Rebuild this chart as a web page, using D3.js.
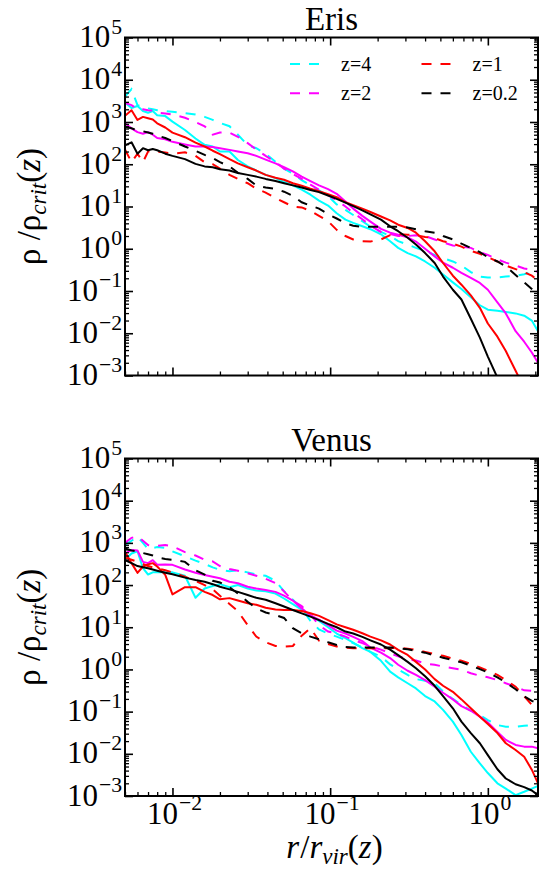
<!DOCTYPE html>
<html><head><meta charset="utf-8">
<script src="https://cdn.jsdelivr.net/npm/d3@7"></script>
<style>body{margin:0;background:#fff}svg{display:block}</style>
</head><body>
<svg id="chart" width="545" height="869"></svg>
<script>
// ---- data ----
const radii = [0.005, 0.0055, 0.006, 0.0065, 0.007, 0.0075, 0.008, 0.009, 0.010, 0.012, 0.014, 0.016, 0.018, 0.020, 0.023, 0.026, 0.030, 0.034, 0.039, 0.045, 0.051, 0.058, 0.066, 0.075, 0.085, 0.097, 0.11, 0.125, 0.14, 0.16, 0.18, 0.21, 0.24, 0.27, 0.31, 0.35, 0.40, 0.46, 0.52, 0.60, 0.68, 0.78, 0.89, 1.0, 1.15, 1.3, 1.5, 1.7, 1.9, 2.08];

const redshiftLabels = ["z=4", "z=2", "z=1", "z=0.2"];
const seriesColors = ["#00ffff", "#ff00ff", "#ff0000", "#000000"];
const panelTitles = ["Eris", "Venus"];
const yTickExponents = [5, 4, 3, 2, 1, 0, -1, -2, -3];
const xTickExponents = [-2, -1, 0];

// Eris
const erisDashedZ4 = [4000,6000,2500,2300,2100,2000,1900,1820,1740,1620, 1510,1320,1120,955,794,500,282,240,178,115, 79,60,42,31.6,24,17.8,11.2,8.3,6.3,4.5, 3.3,2.5,2.0,1.51,1.26,1.05,0.89,0.71,0.6,0.5, 0.4,0.28,0.22,0.21,0.21,0.22,0.23,0.25,0.28,0.25];
const erisSolidZ4 = [2900,2140,2400,1820,1660,1820,1450,1380,1020,646, 407,288,263,200,200,126,89,71,56,47, 38,31.6,25,19,13.8,10.5,6.9,4.9,4.1,3.4, 2.9,2.2,1.5,1.05,0.79,0.66,0.5,0.355,0.245,0.16, 0.112,0.071,0.046,0.036,0.034,0.032,0.0295,0.026,0.02,0.0112];
const erisDashedZ2 = [2820,2510,2000,2000,1900,1860,1660,1585,1510,1260, 1000,794,501,562,562,447,316,224,158,112, 79,59,45,33,25,18.6,14.1,10,7.1,5.0, 3.5,2.5,2.24,2.0,2.0,2.1,2.0,1.66,1.41,1.2, 1.12,1.05,0.83,0.71,0.56,0.47,0.4,0.34,0.32,0.28];
const erisSolidZ2 = [933,708,575,525,575,501,417,389,339,295, 263,263,257,240,219,200,182,158,129,105, 85,68,51,40,31.6,25.7,20,13.2,8.9,6.0, 4.4,2.95,2.4,2.14,1.86,1.48,1.0,0.66,0.47,0.355, 0.27,0.204,0.155,0.107,0.054,0.0295,0.0112,0.0063,0.0035,0.002];
const erisDashedZ1 = [224,112,178,112,200,209,200,191,178,191, 158,112,100,79,56,45,35.5,26.3,21.4,15.8, 12.6,10,9.5,7.9,6.0,4.5,2.8,2.0,1.66,1.51, 1.48,1.66,2.1,2.2,2.14,2.1,1.9,1.78,1.51,1.32, 1.12,0.89,0.76,0.63,0.5,0.4,0.33,0.28,0.23,0.18];
const erisSolidZ1 = [1400,1900,1120,1320,1230,1150,933,741,562,437, 324,263,209,174,132,105,85,71,56,48, 43,35.5,31,26.3,22.9,19.5,16.6,12.6,10.7,8.9, 7.4,5.8,4.7,3.7,3.1,2.4,1.51,0.87,0.46,0.23, 0.141,0.079,0.04,0.017,0.0083,0.0038,0.0013,0.0005,null,null];
const erisDashedZ02 = [759,708,631,603,562,525,479,417,355,263, 209,166,141,112,89,63,45,31.6,28.2,26.3, 22.4,17.8,12.6,10.5,8.9,6.6,5.2,4.0,3.5,3.3, 3.3,3.3,3.3,3.3,3.2,2.9,2.6,2.4,2.0,1.66, 1.32,1.05,0.83,0.63,0.5,0.38,0.24,0.16,0.112,0.083];
const erisSolidZ02 = [282,331,178,240,214,229,214,178,158,132, 102,89,85,76,71,62,56,51,45,40, 35.5,31.6,28.2,24.5,21.9,18.2,15.1,12.3,10.2,8.1, 6.5,4.9,3.4,2.6,1.82,1.26,0.79,0.46,0.22,0.107, 0.063,0.022,0.0079,0.0028,0.00089,null,null,null,null,null];

// Venus
const venusDashedZ4 = [891,1122,1413,1000,708,759,794,759,631,479, 380,316,263,229,214,224,200,178,166,126, 71,45,28,14.1,8.9,7.1,6.0,5.0,4.2,3.3, 2.6,2.0,1.32,1.0,0.74,0.59,0.54,0.47,0.3,0.2, 0.145,0.105,0.083,0.063,0.048,0.044,0.044,0.046,0.048,0.052];
const venusSolidZ4 = [398,562,631,251,178,200,200,200,200,166, 50,83,95,105,89,100,83,74,71,63, 48,35.5,26.3,19,14.1,10,7.1,5.5,4.3,3.2, 2.6,1.6,0.89,0.65,0.47,0.355,0.234,0.174,0.11,0.058, 0.028,0.0112,0.0059,0.0035,0.002,0.0015,0.00105,0.00126,0.0015,0.00174];
const venusDashedZ2 = [1000,1318,1413,1122,891,851,851,891,832,603, 501,398,363,282,240,219,191,166,141,112, 71,42,31.6,20,11.2,7.9,7.1,6.0,5.0,4.2, 3.5,2.95,2.4,2.04,1.74,1.62,1.38,1.29,1.17,1.07, 0.98,0.81,0.71,0.65,0.56,0.47,0.39,0.32,0.31,0.28];
const venusSolidZ2 = [562,676,661,355,331,389,302,309,302,234, 195,174,158,145,120,110,91,83,76,69, 56,43,28,19,15.1,11.2,8.3,7.1,5.9,4.7, 3.3,2.5,1.86,1.29,0.93,0.74,0.56,0.39,0.28,0.195, 0.135,0.105,0.076,0.055,0.033,0.0214,0.0162,0.0148,0.0148,0.0135];
const venusDashedZ1 = [447,398,355,316,282,263,251,224,200,158, 126,100,79,56,35.5,24,11.2,6.0,4.4,3.6, 3.5,3.6,6.3,9.5,4.8,4.0,3.5,3.3,3.2,3.2, 3.2,3.2,3.2,3.3,3.1,2.9,2.6,2.3,2.1,1.8, 1.62,1.35,1.12,0.93,0.74,0.56,0.39,0.23,0.145,0.1];
const venusSolidZ1 = [617,331,195,275,309,331,275,174,60,89, 89,69,58,46,49,43,37,34,29,26.3, 25.7,25.7,24.3,21.4,18.6,14.8,11.7,10,8.7,7.2, 6.0,4.9,3.9,2.9,2.2,1.51,1.0,0.59,0.41,0.295, 0.195,0.12,0.076,0.051,0.031,0.0178,0.0123,0.0085,0.0042,0.002];
const venusDashedZ02 = [741,661,631,575,537,501,457,417,398,355, 224,178,126,115,89,63,40,28,22.4,19.5, 16.6,9.5,7.2,6.0,5.2,4.4,3.8,3.4,3.3,3.3, 3.3,3.3,3.3,3.2,3.0,2.75,2.5,2.14,1.9,1.66, 1.48,1.23,1.02,0.85,0.65,0.49,0.34,0.23,0.18,0.16];
const venusSolidZ02 = [389,331,282,263,251,234,219,195,180,150, 132,120,105,91,79,69,58,50,45,37, 31,25.7,21.4,17.8,14.8,12,10,7.9,7.1,5.9, 4.9,3.9,2.95,2.19,1.51,1.07,0.69,0.41,0.234,0.12, 0.058,0.031,0.0178,0.0093,0.0043,0.0026,0.0019,0.00162,0.00135,0.00105];

// ---- drawing ----
const svg = d3.select("#chart");
const serif = "'Liberation Serif','DejaVu Serif',serif";
const X0 = 125, X1 = 538;
const x = d3.scaleLog().domain([0.005, 2.08]).range([X0, X1]);
const isMajor = v => Math.abs(Math.log10(v) - Math.round(Math.log10(v))) < 1e-6;
const DASH = "10,9";

const panels = [
  {title: panelTitles[0], top: 37.5, bottom: 375.5,
   dashed: [erisDashedZ4, erisDashedZ2, erisDashedZ1, erisDashedZ02],
   solid: [erisSolidZ4, erisSolidZ2, erisSolidZ1, erisSolidZ02], showX: false, legend: true},
  {title: panelTitles[1], top: 458.5, bottom: 796,
   dashed: [venusDashedZ4, venusDashedZ2, venusDashedZ1, venusDashedZ02],
   solid: [venusSolidZ4, venusSolidZ2, venusSolidZ1, venusSolidZ02], showX: true, legend: false}
];

function powerLabel(sel, exp, fs) {
  sel.append("tspan").text("10");
  sel.append("tspan").attr("dx", 1).attr("dy", -0.42 * fs).attr("font-size", fs * 0.7)
     .text(exp < 0 ? "\u2212" + Math.abs(exp) : String(exp));
}

const defs = svg.append("defs");

panels.forEach((p, pi) => {
  const y = d3.scaleLog().domain([1e-3, 1e5]).range([p.bottom, p.top]);
  const g = svg.append("g");
  const cid = "clip" + pi;
  defs.append("clipPath").attr("id", cid).append("rect")
      .attr("x", X0).attr("y", p.top).attr("width", X1 - X0).attr("height", p.bottom - p.top);

  const line = d3.line().defined(d => d[1] != null).x(d => x(d[0])).y(d => y(d[1]));
  const plot = g.append("g").attr("clip-path", `url(#${cid})`);
  for (let k = 0; k < 4; k++) {
    plot.append("path").datum(radii.map((r, j) => [r, p.dashed[k][j]]))
        .attr("d", line).attr("fill", "none").attr("stroke", seriesColors[k])
        .attr("stroke-width", 2).attr("stroke-dasharray", DASH);
    plot.append("path").datum(radii.map((r, j) => [r, p.solid[k][j]]))
        .attr("d", line).attr("fill", "none").attr("stroke", seriesColors[k])
        .attr("stroke-width", 2).attr("stroke-linejoin", "round");
  }

  // ticks (inward, all four sides)
  const yt = y.ticks(), xt = x.ticks();
  const yMaj = yt.filter(isMajor), yMin = yt.filter(v => !isMajor(v));
  const xMaj = xt.filter(isMajor), xMin = xt.filter(v => !isMajor(v));
  const put = (axis, tx, ty, w) => g.append("g").attr("transform", `translate(${tx},${ty})`)
      .call(axis).call(s => { s.select(".domain").remove(); s.selectAll("text").remove();
                              s.selectAll(".tick line").attr("stroke", "#000").attr("stroke-width", w); });
  put(d3.axisLeft(y).tickValues(yMaj).tickSize(-8), X0, 0, 1.6);
  put(d3.axisLeft(y).tickValues(yMin).tickSize(-4), X0, 0, 1.3);
  put(d3.axisRight(y).tickValues(yMaj).tickSize(-8), X1, 0, 1.6);
  put(d3.axisRight(y).tickValues(yMin).tickSize(-4), X1, 0, 1.3);
  put(d3.axisBottom(x).tickValues(xMaj).tickSize(-8), 0, p.bottom, 1.6);
  put(d3.axisBottom(x).tickValues(xMin).tickSize(-4), 0, p.bottom, 1.3);
  put(d3.axisTop(x).tickValues(xMaj).tickSize(-8), 0, p.top, 1.6);
  put(d3.axisTop(x).tickValues(xMin).tickSize(-4), 0, p.top, 1.3);

  g.append("rect").attr("x", X0).attr("y", p.top).attr("width", X1 - X0).attr("height", p.bottom - p.top)
   .attr("fill", "none").attr("stroke", "#000").attr("stroke-width", 2);

  // y tick labels
  const TF = 31;
  yTickExponents.forEach(e => {
    const t = g.append("text").attr("x", 122).attr("y", y(Math.pow(10, e)) + 9.5)
      .attr("text-anchor", "end").attr("font-family", serif).attr("font-size", TF);
    powerLabel(t, e, TF);
  });
  if (p.showX) {
    xTickExponents.forEach(e => {
      const t = g.append("text").attr("x", x(Math.pow(10, e)) + 2).attr("y", p.bottom + 27.5)
        .attr("text-anchor", "middle").attr("font-family", serif).attr("font-size", TF);
      powerLabel(t, e, TF);
    });
    const xl = svg.append("text").attr("x", (X0 + X1) / 2 + 3).attr("y", 858)
      .attr("text-anchor", "middle").attr("font-family", serif).attr("font-size", 33);
    xl.append("tspan").attr("font-style", "italic").text("r");
    xl.append("tspan").attr("dx", 1).text("/");
    xl.append("tspan").attr("font-style", "italic").text("r");
    xl.append("tspan").attr("font-style", "italic").attr("font-size", 23).attr("dy", 6).text("vir");
    xl.append("tspan").attr("dy", -6).text("(");
    xl.append("tspan").attr("font-style", "italic").text("z");
    xl.append("tspan").text(")");
  }

  // y label
  const cy = (p.top + p.bottom) / 2;
  const yl = svg.append("text").attr("transform", `translate(40,${cy}) rotate(-90)`)
    .attr("text-anchor", "middle").attr("font-family", serif).attr("font-size", 33);
  yl.append("tspan").text("\u03c1 /\u03c1");
  yl.append("tspan").attr("font-style", "italic").attr("font-size", 23).attr("dy", 6).text("crit");
  yl.append("tspan").attr("dy", -6).text("(");
  yl.append("tspan").attr("font-style", "italic").text("z");
  yl.append("tspan").text(")");

  // title
  svg.append("text").attr("x", (X0 + X1) / 2).attr("y", p.top - 8)
    .attr("text-anchor", "middle").attr("font-family", serif).attr("font-size", 33).text(p.title);

  // legend
  if (p.legend) {
    const cols = [{hx: 290, tx: 341}, {hx: 421.5, tx: 472.5}];
    const rows = [64, 93.3];
    redshiftLabels.forEach((lab, k) => {
      const c = cols[Math.floor(k / 2)], ry = rows[k % 2];
      g.append("line").attr("x1", c.hx).attr("x2", c.hx + 29.5).attr("y1", ry).attr("y2", ry)
        .attr("stroke", seriesColors[k]).attr("stroke-width", 2).attr("stroke-dasharray", DASH);
      g.append("text").attr("x", c.tx).attr("y", ry + 6.8).attr("font-family", serif)
        .attr("font-size", 20).text(lab);
    });
  }
});
</script>
</body></html>
